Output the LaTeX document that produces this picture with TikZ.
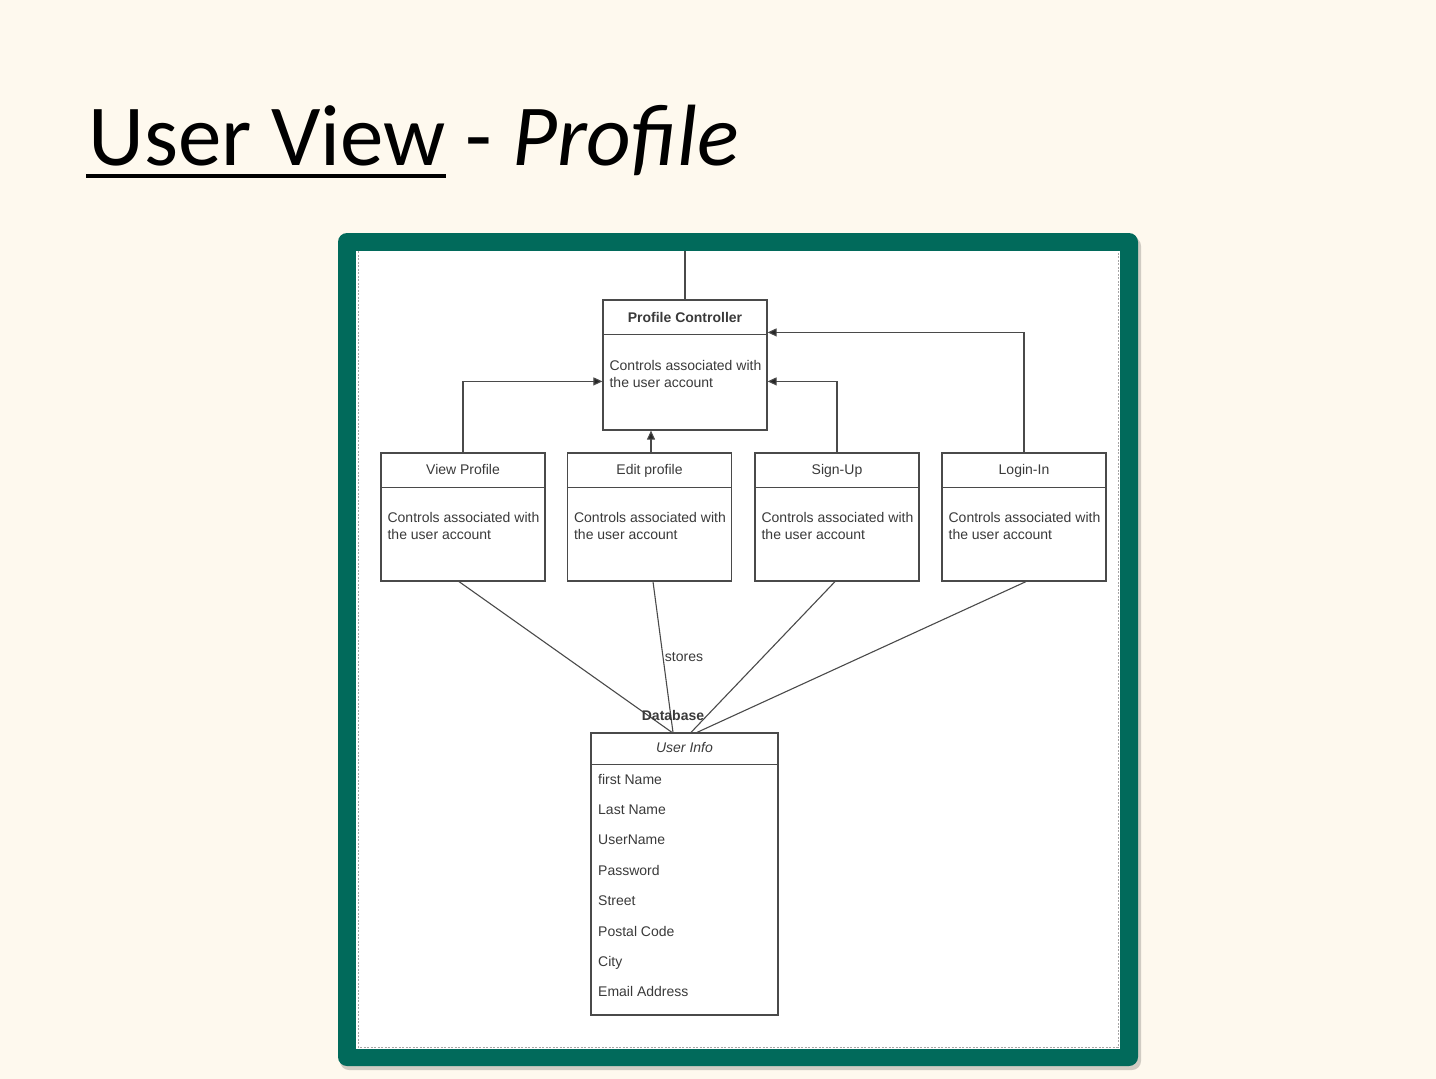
\documentclass[tikz,border=0pt]{standalone}
\usepackage{fontspec}
\setmainfont{Liberation Sans}
\newfontfamily\titlefont{Carlito}
\usetikzlibrary{arrows.meta,calc}
\definecolor{slidebg}{HTML}{FEF9EE}
\definecolor{frameteal}{HTML}{016A5B}
\definecolor{ink}{HTML}{3A3A3A}
\definecolor{edge}{HTML}{4A4A4A}
\begin{document}
\begin{tikzpicture}[x=1pt,y=-1pt,
  classbox/.style={draw=edge, line width=1.2pt, fill=white, inner sep=0pt},
  boxtitle/.style={text=ink, font=\fontsize{14}{16}\selectfont, inner sep=0pt, anchor=base},
  boxbody/.style={text=ink, font=\fontsize{14}{16.5}\selectfont, align=left, inner sep=0pt, anchor=north west},
  field/.style={text=ink, font=\fontsize{14}{16}\selectfont, inner sep=0pt, anchor=base west},
  conn/.style={draw=edge, line width=1.1pt},
  arrow/.style={conn, -{Triangle[length=9pt,width=8pt,fill=black!85]}}
]
% slide background
\fill[slidebg] (0,0) rectangle (1436,1079);
\useasboundingbox (0,0) rectangle (1436,1079);

% slide title
\node[anchor=base west, inner sep=0pt, font=\titlefont\fontsize{87}{100}\selectfont] (uv) at (88,165) {User View};
\draw[line width=4pt] ($(uv.base west)+(-2,11)$) -- ($(uv.base east)+(0,11)$);
\node[anchor=base west, inner sep=0pt, font=\titlefont\fontsize{87}{100}\selectfont] (prof) at (uv.base east) {\ - \textit{Profile}};

% framed picture
\fill[black, opacity=0.18, rounded corners=9pt] (340,237) rectangle (1141,1070);
\fill[frameteal, rounded corners=9pt] (338,233) rectangle (1138,1066);
\fill[white] (356,251) rectangle (1120,1049);
\draw[gray!70, line width=0.8pt, dash pattern=on 2pt off 1.5pt] (358,251) -- (358,1047) -- (1118,1047) -- (1118,251);

% controller class
\node[classbox, minimum width=164pt, minimum height=130pt] (ctrl) at (685,365) {};
\draw[conn] ($(ctrl.north west)+(0,35)$) -- ($(ctrl.north east)+(0,35)$);
\node[boxtitle, font=\bfseries\fontsize{14}{16}\selectfont] (ctrlt) at ($(ctrl.north)+(0,23)$) {Profile Controller};
\node[boxbody] (ctrlb) at ($(ctrl.north west)+(7,61)$) {Controls associated with\\the user account};
\coordinate (topend) at (685,251);
\draw[conn] (ctrl.north) -- (topend);

% the four view classes
\foreach \name/\cx/\label in {vp/463/View Profile, ep/649.5/Edit profile, su/837/Sign-Up, li/1024/Login-In}{
  \node[classbox, minimum width=164pt, minimum height=128pt] (\name) at (\cx,517) {};
  \draw[conn] ($(\name.north west)+(0,35)$) -- ($(\name.north east)+(0,35)$);
  \node[boxtitle] (\name t) at ($(\name.north)+(0,22)$) {\label};
  \node[boxbody] (\name b) at ($(\name.north west)+(7,60)$) {Controls associated with\\the user account};
}

% arrows into the controller
\draw[arrow] (vp.north) |- ($(ctrl.north west)+(0,82)$);
\draw[arrow] ($(ep.north)+(1.5,0)$) -- ($(ctrl.south)+(-34,0)$);
\draw[arrow] (su.north) |- ($(ctrl.north east)+(0,82)$);
\draw[arrow] (li.north) |- ($(ctrl.north east)+(0,33)$);

% database class
\node[classbox, minimum width=187pt, minimum height=282pt] (ui) at (684.5,874) {};
\draw[conn] ($(ui.north west)+(0,32)$) -- ($(ui.north east)+(0,32)$);
\node[boxtitle, font=\itshape\fontsize{14}{16}\selectfont] (uit) at ($(ui.north)+(0,20)$) {User Info};
\foreach \i/\txt in {0/first Name, 1/Last Name, 2/UserName, 3/Password, 4/Street, 5/Postal Code, 6/City, 7/Email Address}{
  \node[field] (f\i) at (598, 784+30.4*\i) {\txt};
}

% links to the database
\draw[conn] ($(vp.south)+(-4,0)$) -- ($(ui.north)+(-12.5,0)$);
\draw[conn] ($(ep.south)+(3.5,0)$) -- ($(ui.north)+(-11.5,0)$);
\draw[conn] ($(su.south)+(-2,0)$) -- ($(ui.north)+(6.5,0)$);
\draw[conn] ($(li.south)+(2,0)$) -- ($(ui.north)+(12.5,0)$);
\node[boxtitle] (stores) at (684,661) {stores};
\node[boxtitle, font=\bfseries\fontsize{14}{16}\selectfont] (dbl) at (673,720) {Database};
\end{tikzpicture}
\end{document}
